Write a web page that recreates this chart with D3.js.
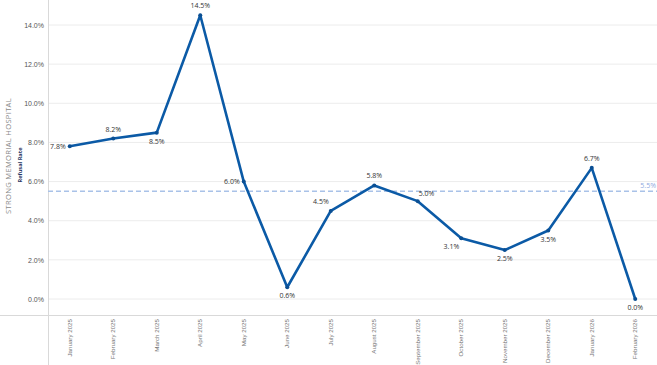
<!DOCTYPE html>
<html><head><meta charset="utf-8">
<script src="https://cdn.jsdelivr.net/npm/d3@7"></script>
<style>body{margin:0;background:#fff;}svg{display:block;font-family:"Open Sans",Lato,sans-serif;}</style>
</head><body>
<svg id="c" width="657" height="365"></svg>
<script>
const months = ["January 2025","February 2025","March 2025","April 2025","May 2025","June 2025","July 2025","August 2025","September 2025","October 2025","November 2025","December 2025","January 2026","February 2026"];
const rates = [7.8,8.2,8.5,14.5,6.0,0.6,4.5,5.8,5.0,3.1,2.5,3.5,6.7,0.0];
const labelPos = ["left","above","below","above","left","below","aboveleft","above","aboveright","belowleft","below","below","above","below"];
const yTicks = [0,2,4,6,8,10,12,14];
const average = 5.5;

const svg = d3.select("#c");
const W = 657, H = 365;
const left = 48, right = 657;
const x = d3.scaleBand().domain(months).range([left, right]);
const y = d3.scaleLinear().domain([0, 14]).range([299, 25]);
const cx = d => x(d) + x.bandwidth()/2;

// gridlines
svg.append("g").selectAll("line").data(yTicks).join("line")
  .attr("x1", left).attr("x2", right).attr("y1", d=>y(d)).attr("y2", d=>y(d))
  .attr("stroke", "#ececec").attr("stroke-width", 1);

// axes borders
svg.append("line").attr("x1", left+0.5).attr("x2", left+0.5).attr("y1", 0).attr("y2", H).attr("stroke", "#d9d9d9");
svg.append("line").attr("x1", 0).attr("x2", W).attr("y1", 315.5).attr("y2", 315.5).attr("stroke", "#d9d9d9");

// y tick labels
const yAxis = d3.axisLeft(y).tickValues(yTicks).tickFormat(d => d.toFixed(1) + "%").tickSize(0).tickPadding(4);
const ya = svg.append("g").attr("transform", `translate(${left},0)`).call(yAxis);
ya.select(".domain").remove();
ya.selectAll("text").attr("fill", "#555").style("font-size", "7px");

// x axis labels
const xAxis = d3.axisBottom(x).tickSize(0);
const xa = svg.append("g").attr("transform", `translate(0,316)`).call(xAxis);
xa.select(".domain").remove();
xa.selectAll("text").attr("fill", "#777").style("font-size", "6.2px")
  .attr("text-anchor", "end").attr("transform", "rotate(-90)").attr("x", -3).attr("y", 0).attr("dy", "0.32em");

// y titles
svg.append("text").attr("transform", "translate(11,156) rotate(-90)").attr("text-anchor", "middle")
  .attr("fill", "#8a8a8a").style("font-size", "7.6px").style("letter-spacing", "0.3px").text("STRONG MEMORIAL HOSPITAL");
svg.append("text").attr("transform", "translate(22,165) rotate(-90)").attr("text-anchor", "middle")
  .attr("fill", "#1f3864").style("font-size", "5.6px").style("font-weight", "bold").text("Refusal Rate");

// average line
svg.append("line").attr("x1", left).attr("x2", right).attr("y1", y(average)).attr("y2", y(average))
  .attr("stroke", "#a9c2e8").attr("stroke-width", 1.5).attr("stroke-dasharray", "5,3");
svg.append("text").attr("x", 656).attr("y", y(average) - 3).attr("text-anchor", "end")
  .attr("fill", "#8fa9de").style("font-size", "7px").text(average.toFixed(1) + "%");

// line
const data = months.map((m,i)=>({m, v: rates[i], p: labelPos[i]}));
svg.append("path").datum(data)
  .attr("d", d3.line().x(d=>cx(d.m)).y(d=>y(d.v)))
  .attr("fill", "none").attr("stroke", "#0b5aa6").attr("stroke-width", 2.6).attr("stroke-linejoin", "round");
svg.append("g").selectAll("circle").data(data).join("circle")
  .attr("cx", d=>cx(d.m)).attr("cy", d=>y(d.v)).attr("r", 2).attr("fill", "#0b4f93");

// labels
const off = {left:[-4,0,"end"], above:[0,-7,"middle"], below:[0,11,"middle"], aboveleft:[-2,-7,"end"], aboveright:[1,-5,"start"], belowleft:[-2,11,"end"]};
svg.append("g").selectAll("text").data(data).join("text")
  .attr("x", d=>cx(d.m)+off[d.p][0]).attr("y", d=>y(d.v)+off[d.p][1]).attr("dy", d=>d.p==="left"?"0.35em":0)
  .attr("text-anchor", d=>off[d.p][2]).attr("fill", "#333").style("font-size", "7px")
  .text(d=>d.v.toFixed(1)+"%");
</script>
</body></html>
